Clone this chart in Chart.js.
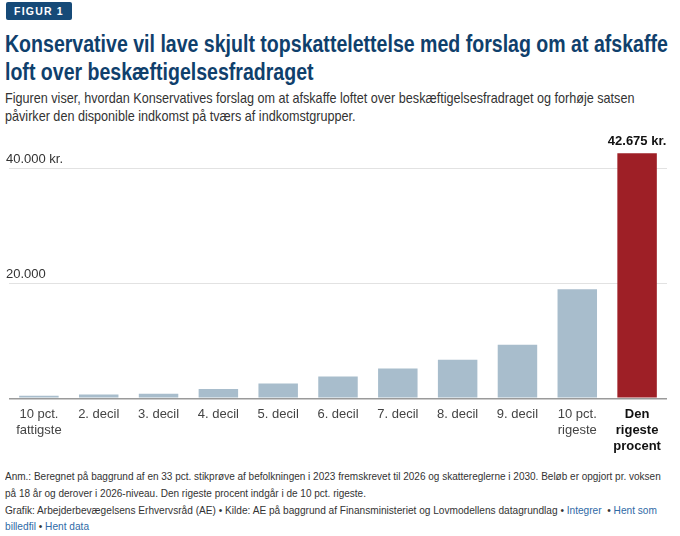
<!DOCTYPE html>
<html lang="da">
<head>
<meta charset="utf-8">
<script src="https://cdn.jsdelivr.net/npm/chart.js@4.4.1/dist/chart.umd.min.js"></script>
<style>
  html, body { margin: 0; padding: 0; background: #fff; }
  body { width: 680px; height: 536px; position: relative; overflow: hidden;
         font-family: "Liberation Sans", Arial, sans-serif; color: #333; }
  .badge { position: absolute; left: 6px; top: 2px; width: 66px; height: 18px; background: #164a78;
           border-radius: 2px; color: #fff; font-size: 10.5px; font-weight: bold; letter-spacing: 1.2px;
           line-height: 18px; text-align: center; }
  .tekst { position: absolute; left: 5px; white-space: nowrap; transform-origin: 0 0; }
  .titel { top: 30px; font-weight: bold; font-size: 23px; line-height: 28px; color: #0f406c;
           transform: scaleX(0.85); }
  .under { top: 89px; font-size: 14.5px; line-height: 18px; color: #333; transform: scaleX(0.87); }
  .anm { top: 468px; font-size: 11.5px; line-height: 17px; color: #333; transform: scaleX(0.87); }
  .kilde { top: 502px; font-size: 11.5px; line-height: 16px; color: #333; transform: scaleX(0.88); }
  .kilde a { color: #2f6aa6; text-decoration: none; }
  #wrap { position: absolute; left: 0; top: 120px; width: 680px; height: 335px; }
</style>
</head>
<body>
<div class="badge">FIGUR 1</div>
<div class="tekst titel">Konservative vil lave skjult topskattelettelse med forslag om at afskaffe<br>loft over beskæftigelsesfradraget</div>
<div class="tekst under">Figuren viser, hvordan Konservatives forslag om at afskaffe loftet over beskæftigelsesfradraget og forhøje satsen<br>påvirker den disponible indkomst på tværs af indkomstgrupper.</div>
<div id="wrap"><canvas id="graf"></canvas></div>
<div class="tekst anm">Anm.: Beregnet på baggrund af en 33 pct. stikprøve af befolkningen i 2023 fremskrevet til 2026 og skattereglerne i 2030. Beløb er opgjort pr. voksen<br>på 18 år og derover i 2026-niveau. Den rigeste procent indgår i de 10 pct. rigeste.</div>
<div class="tekst kilde">Grafik: Arbejderbevægelsens Erhvervsråd (AE) • Kilde: AE på baggrund af Finansministeriet og Lovmodellens datagrundlag • <a>Integrer</a> &nbsp;• <a>Hent som</a><br><a>billedfil</a> • <a>Hent data</a></div>

<script>
// Indkomstgrupper (x-aksen)
const grupper = [
  ["10 pct.", "fattigste"], "2. decil", "3. decil", "4. decil", "5. decil",
  "6. decil", "7. decil", "8. decil", "9. decil", ["10 pct.", "rigeste"],
  ["Den", "rigeste", "procent"]
];
// Gevinst i kr. pr. voksen
const gevinst = [430, 660, 790, 1600, 2590, 3800, 5200, 6720, 9340, 19000, 42675];
const farver = ["#a8bdcc", "#a8bdcc", "#a8bdcc", "#a8bdcc", "#a8bdcc", "#a8bdcc",
                "#a8bdcc", "#a8bdcc", "#a8bdcc", "#a8bdcc", "#9e1f26"];
// Y-aksens ticks
const yTicks = [0, 20000, 40000];
const yLabels = ["", "20.000", "40.000 kr."];

const FONT = '"Liberation Sans", Arial, sans-serif';

function tusind(v) {
  return String(Math.round(v)).replace(/\B(?=(\d{3})+(?!\d))/g, ".");
}

// Y-labels over gitterlinjerne + værdi over den sidste søjle
const etiketter = {
  id: "etiketter",
  afterDatasetsDraw(chart) {
    const ctx = chart.ctx;
    const y = chart.scales.y;
    ctx.save();
    ctx.font = "13px " + FONT;
    ctx.fillStyle = "#333";
    ctx.textAlign = "left";
    ctx.textBaseline = "middle";
    yTicks.forEach((v, i) => {
      if (yLabels[i]) ctx.fillText(yLabels[i], 6, y.getPixelForValue(v) - 9);
    });

    const meta = chart.getDatasetMeta(0);
    const i = gevinst.length - 1;
    const bar = meta.data[i];
    ctx.font = "bold 13px " + FONT;
    ctx.fillStyle = "#111";
    ctx.textAlign = "center";
    ctx.textBaseline = "bottom";
    ctx.fillText(tusind(gevinst[i]) + " kr.", bar.x, bar.y - 5);
    ctx.restore();
  }
};

new Chart(document.getElementById("graf").getContext("2d"), {
  type: "bar",
  data: {
    labels: grupper,
    datasets: [{
      data: gevinst,
      backgroundColor: farver,
      borderWidth: 0,
      categoryPercentage: 1,
      barPercentage: 0.66
    }]
  },
  options: {
    responsive: true,
    maintainAspectRatio: false,
    animation: false,
    layout: { padding: { left: 9, right: 13, top: 20, bottom: 0 } },
    plugins: { legend: { display: false }, tooltip: { enabled: false } },
    scales: {
      x: {
        grid: { display: false },
        border: { display: false },
        ticks: {
          padding: 0,
          maxRotation: 0,
          autoSkip: false,
          color: ctx => ctx.index === gevinst.length - 1 ? "#111" : "#444",
          font: ctx => ({
            family: FONT,
            size: 13,
            weight: ctx.index === gevinst.length - 1 ? "bold" : "normal",
            lineHeight: 1.25
          })
        }
      },
      y: {
        min: 0,
        max: 45000,
        afterBuildTicks: axis => { axis.ticks = yTicks.map(v => ({ value: v })); },
        border: { display: false },
        grid: {
          drawTicks: false,
          color: ctx => ctx.tick && ctx.tick.value === 0 ? "#9a9a9a" : "#e2e2e2",
          lineWidth: ctx => ctx.tick && ctx.tick.value === 0 ? 1.5 : 1
        },
        ticks: { display: false }
      }
    }
  },
  plugins: [etiketter]
});
</script>
</body>
</html>
